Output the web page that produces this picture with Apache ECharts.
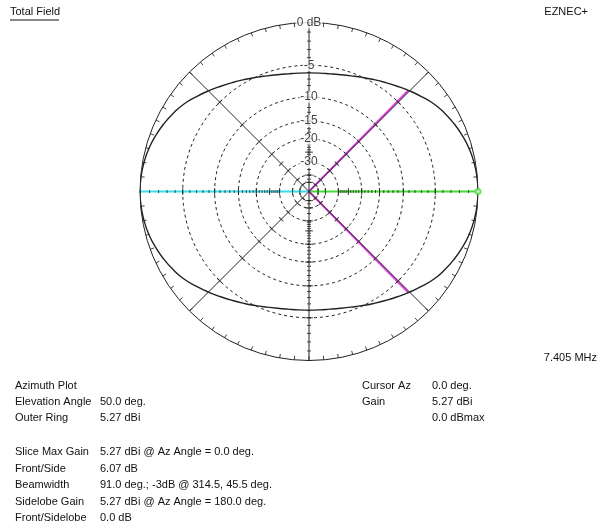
<!DOCTYPE html>
<html><head><meta charset="utf-8">
<script src="https://cdn.jsdelivr.net/npm/echarts@6/dist/echarts.min.js"></script>
<style>html,body{margin:0;padding:0;background:#fff}#c{width:608px;height:531px}</style>
</head><body><div id="c"></div>
<script>
// Azimuth angles (deg) and relative field (dB below max)
const azimuthDeg = [0,5,10,15,20,25,30,35,40,45,50,55,60,65,70,75,80,85,90,
  95,100,105,110,115,120,125,130,135,140,145,150,155,160,165,170,175,180,
  185,190,195,200,205,210,215,220,225,230,235,240,245,250,255,260,265,270,
  275,280,285,290,295,300,305,310,315,320,325,330,335,340,345,350,355,360];
const gainDb = [0,-0.04,-0.15,-0.33,-0.6,-0.92,-1.3,-1.75,-2.35,-2.95,-3.55,-4.1,-4.6,-5.05,-5.45,-5.75,-5.95,-6.04,-6.07,
  -6.04,-5.95,-5.75,-5.45,-5.05,-4.6,-4.1,-3.55,-2.95,-2.35,-1.75,-1.3,-0.92,-0.6,-0.33,-0.15,-0.04,0,
  -0.04,-0.15,-0.33,-0.6,-0.92,-1.3,-1.75,-2.35,-2.95,-3.55,-4.1,-4.6,-5.05,-5.45,-5.75,-5.95,-6.04,-6.07,
  -6.04,-5.95,-5.75,-5.45,-5.05,-4.6,-4.1,-3.55,-2.95,-2.35,-1.75,-1.3,-0.92,-0.6,-0.33,-0.15,-0.04,0];
const ringDb = [-5,-10,-15,-20,-30,-40,-50];
const ringLabels = ['-5','-10','-15','-20','-30'];
const outerLabel = '0 dB';
const beamwidthAz = [45.5, 314.5];
const beamwidthDb = -3;
const cursorAz = 0;
const gridAz = [45,135,225,315];

// ARRL log scale: radius fraction = 0.89^(-dB/2)
const arrl = db => Math.pow(0.89, -db / 2);

const series = [];
const ringAngles = [];
for (let a = 0; a <= 360; a += 3) ringAngles.push(a);
// dashed rings
ringDb.forEach(db => {
  series.push({type:'line', coordinateSystem:'polar', silent:true, symbol:'none', z:2,
    lineStyle:{color:'#222', width:1, type:[3,3]},
    data: ringAngles.map(a => [arrl(db), a])});
});
// diagonal grid lines
gridAz.forEach(a => {
  series.push({type:'line', coordinateSystem:'polar', silent:true, symbol:'none', z:4,
    lineStyle:{color:'#222', width:1}, data:[[0,a],[1,a]]});
});
// vertical axis
[90,270].forEach(a => {
  series.push({type:'line', coordinateSystem:'polar', silent:true, symbol:'none', z:4,
    lineStyle:{color:'#222', width:1}, data:[[0,a],[1,a]]});
});
// horizontal axis: cyan left, green right (cursor)
series.push({type:'line', coordinateSystem:'polar', silent:true, symbol:'none', z:3,
  lineStyle:{color:'#33e0ee', width:2}, data:[[0,180],[1,180]]});
series.push({type:'line', coordinateSystem:'polar', silent:true, symbol:'none', z:3,
  lineStyle:{color:'#44dd33', width:2}, data:[[0,cursorAz],[1,cursorAz]]});
series.push({type:'scatter', coordinateSystem:'polar', silent:true, z:6,
  symbol:'emptyCircle', symbolSize:5, itemStyle:{color:'#44dd33', borderColor:'#44dd33'},
  data:[[1,cursorAz]]});
// beamwidth lines
beamwidthAz.forEach(a => {
  series.push({type:'line', coordinateSystem:'polar', silent:true, symbol:'none', z:3,
    lineStyle:{color:'#e040e0', width:2}, data:[[0,a],[arrl(beamwidthDb),a]]});
});
// ticks
const tickPts = [];
const dotPts = [];
for (let d = 0; d >= -30; d -= 1) {
  [90,270].forEach(a => tickPts.push({value:[arrl(d),a], symbolRotate:0, symbolSize:[4,1]}));
  [0,180].forEach(a => dotPts.push({value:[arrl(d),a]}));
}
[-35,-40,-45,-50].forEach(d => [90,270].forEach(a => tickPts.push({value:[arrl(d),a], symbolRotate:0, symbolSize:[4,1]})));
ringDb.concat([-25]).forEach(d => {
  gridAz.forEach(a => tickPts.push({value:[arrl(d),a], symbolRotate:a, symbolSize:[1,6]}));
  [0,180].forEach(a => tickPts.push({value:[arrl(d),a], symbolRotate:0, symbolSize:[1,7]}));
  [90,270].forEach(a => tickPts.push({value:[arrl(d),a], symbolRotate:0, symbolSize:[8,1]}));
});
series.push({type:'scatter', coordinateSystem:'polar', silent:true, z:5, symbol:'rect',
  itemStyle:{color:'#222'}, data:tickPts});
series.push({type:'scatter', coordinateSystem:'polar', silent:true, z:5, symbol:'rect',
  symbolSize:[1,3], itemStyle:{color:'#222'}, data:dotPts});
// pattern
series.push({type:'line', coordinateSystem:'polar', silent:true, symbol:'none', smooth:true, z:6,
  lineStyle:{color:'#222', width:1.4},
  data: azimuthDeg.map((a,i) => [arrl(gainDb[i]), a])});
// ring labels
const labelPts = ringLabels.map((t,i) => ({value:[arrl(ringDb[i]),90], name:t}));
labelPts.push({value:[1,90], name:outerLabel});
series.push({type:'scatter', coordinateSystem:'polar', silent:true, z:10, symbolSize:0,
  label:{show:true, position:'inside', formatter:p=>p.name, color:'#111',
    fontFamily:'Liberation Sans', fontSize:12, backgroundColor:'#fff', padding:[0,1]},
  data: labelPts});

const txt = (x,y,t,align) => ({type:'text', x:x, y:y, style:{text:t, fill:'#111',
  font:'11px "Liberation Sans", Arial, sans-serif', textAlign:align||'left', textVerticalAlign:'middle'}});
const leftLabels = ['Azimuth Plot','Elevation Angle','Outer Ring','Slice Max Gain','Front/Side','Beamwidth','Sidelobe Gain','Front/Sidelobe'];
const leftValues = ['','50.0 deg.','5.27 dBi','5.27 dBi @ Az Angle = 0.0 deg.','6.07 dB','91.0 deg.; -3dB @ 314.5, 45.5 deg.','5.27 dBi @ Az Angle = 180.0 deg.','0.0 dB'];
const leftY = [386,402,418,452,469,485,502,518];
const rightLabels = ['Cursor Az','Gain',''];
const rightValues = ['0.0 deg.','5.27 dBi','0.0 dBmax'];
const graphics = [
  txt(10,12,'Total Field'),
  {type:'line', shape:{x1:10,y1:20,x2:59,y2:20}, style:{stroke:'#111', lineWidth:1}},
  txt(588,12,'EZNEC+','right'),
  txt(597,358,'7.405 MHz','right')
];
leftLabels.forEach((t,i) => { graphics.push(txt(15,leftY[i],t)); if (leftValues[i]) graphics.push(txt(100,leftY[i],leftValues[i])); });
rightLabels.forEach((t,i) => { if (t) graphics.push(txt(362,leftY[i],t)); graphics.push(txt(432,leftY[i],rightValues[i])); });

const chart = echarts.init(document.getElementById('c'), null, {renderer:'canvas'});
chart.setOption({
  animation:false,
  backgroundColor:'#fff',
  polar:{center:[309,191.5], radius:169},
  angleAxis:{type:'value', min:0, max:360, interval:5, startAngle:0, clockwise:false,
    axisLine:{lineStyle:{color:'#222', width:1}},
    axisTick:{show:true, inside:true, length:4, lineStyle:{color:'#444'}},
    axisLabel:{show:false}, splitLine:{show:false}},
  radiusAxis:{type:'value', min:0, max:1, axisLine:{show:false}, axisTick:{show:false},
    axisLabel:{show:false}, splitLine:{show:false}},
  graphic: graphics,
  series: series
});
</script></body></html>
